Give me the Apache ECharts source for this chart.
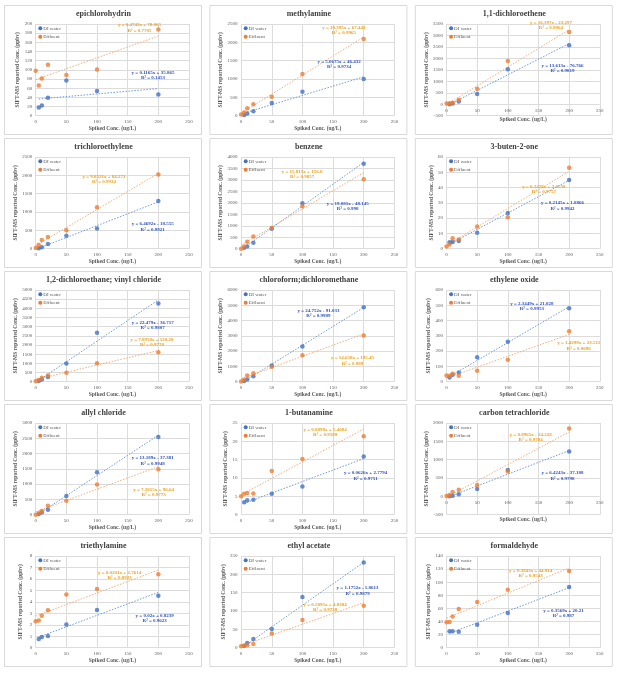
<!DOCTYPE html>
<html><head><meta charset="utf-8">
<script src="https://cdn.jsdelivr.net/npm/echarts@6/dist/echarts.min.js"></script>
<style>html,body{margin:0;padding:0;background:#fff}#c{width:620px;height:678px}</style>
</head><body><div id="c"></div><script>
// ---------------- data ----------------
const compounds = ['epichlorohydrin','methylamine','1,1-dichloroethene','trichloroethylene','benzene','3-buten-2-one',
  '1,2-dichloroethane; vinyl chloride','chloroform;dichloromethane','ethylene oxide','allyl chloride','1-butanamine',
  'carbon tetrachloride','triethylamine','ethyl acetate','formaldehyde'];
const spikedDI = [5, 10, 20, 50, 100, 200];
const spikedEffluent = [0, 5, 10, 20, 50, 100, 200];
const diWater = [
  [18, 22.5, 39, 77, 54, 46],
  [20, 60, 120, 345, 655, 1000],
  [0, 30, 120, 450, 1530, 2570],
  [10, 40, 130, 350, 550, 1300],
  [40, 100, 260, 870, 1980, 3710],
  [4.2, 4.4, 5.0, 10.5, 23.3, 45],
  [36, 126, 250, 990, 2670, 4260],
  [43, 150, 350, 1060, 2300, 4870],
  [27, 45, 61, 160, 262, 481],
  [20, 75, 160, 615, 1390, 2540],
  [3.4, 3.95, 4.05, 5.7, 7.7, 15.9],
  [0, 20, 55, 200, 720, 1220],
  [0.76, 0.93, 1.02, 2.03, 3.29, 4.54],
  [5.5, 12.7, 23.6, 51, 138, 232],
  [25, 25, 24.5, 35, 53, 92.6]
];
const effluent = [
  [98, 66, 81, 111, 89, 101, 188],
  [30, 90, 200, 310, 520, 1140, 2090],
  [30, 40, 70, 200, 680, 1890, 3150],
  [20, 100, 240, 320, 500, 1130, 2020],
  [0, 100, 300, 530, 900, 1850, 3030],
  [1.5, 2.8, 6.9, 6.1, 14.6, 20.5, 53],
  [18, 90, 216, 343, 487, 1010, 1607],
  [20, 130, 410, 560, 975, 1730, 3030],
  [41, 39, 52, 39, 71, 143, 330],
  [0, 50, 120, 290, 460, 990, 1490],
  [5.0, 5.7, 5.9, 5.75, 11.9, 15.2, 21.4],
  [10, 40, 120, 180, 310, 680, 1850],
  [2.3, 2.38, 2.79, 3.26, 4.65, 5.12, 6.4],
  [4, 5, 7, 10, 39, 75.5, 114.5],
  [38.7, 39.2, 47.8, 59, 69.7, 88.5, 117]
];
// trendline coefficients [slope, intercept, R2]
const diFit = [
  [0.1165, 35.865, '0.1453'], [5.0675, 46.432, '0.9734'], [13.613, -76.766, '0.9819'],
  [6.4692, -18.555, '0.9921'], [19.081, -48.145, '0.998'], [0.2145, 1.8866, '0.9942'],
  [22.479, -36.717, '0.9807'], [24.752, -91.033, '0.9989'], [2.3449, 21.828, '0.9953'],
  [13.189, -37.381, '0.9948'], [0.0626, 2.7794, '0.9751'], [6.4243, -37.188, '0.9798'],
  [0.02, 0.8239, '0.9623'], [1.1752, -1.8613, '0.9879'], [0.3569, 20.21, '0.987']
];
const effFit = [
  [0.4742, 78.865, '0.7705'], [10.395, 67.442, '0.9965'], [16.397, -23.297, '0.9864'],
  [9.8521, 84.271, '0.9934'], [15.815, 156.8, '0.9857'], [0.2428, 2.0538, '0.9757'],
  [7.8958, 120.28, '0.9778'], [14.658, 195.45, '0.989'], [1.4299, 23.511, '0.9696'],
  [7.3815, 96.64, '0.9773'], [0.0898, 5.4084, '0.9589'], [8.8965, -24.228, '0.9784'],
  [0.0201, 2.7614, '0.8923'], [0.5895, 4.8384, '0.9738'], [0.3843, 44.914, '0.9543']
];
const yMin = [0, 0, -500, 0, 0, 0, 0, 0, 0, 0, 0, -500, 0, 0, 0];
const yMax = [200, 2500, 3500, 2500, 4000, 60, 5000, 6000, 600, 3000, 25, 2000, 8, 250, 140];
const yStep = [20, 500, 500, 500, 500, 10, 500, 1000, 100, 500, 5, 500, 1, 50, 20];
const xTicks = {min: 0, max: 250, step: 50};

// ---------------- layout (positions / styles) ----------------
const COLW = 205.4, ROWH = 133;
const PL = 35.7, PT = 24, PW = 153.3, PH = 91.7;
// equation label centres: [effDx, effY, diDx, diY] relative to plot-left / row-top
const eqPos = [
  [103.8, 25, 117.3, 72.3], [102.7, 27.7, 98, 61.7], [104.4, 22.7, 116, 65.7],
  [68.3, 43.3, 117, 91], [61, 38.7, 106.6, 70.3], [97.3, 53.7, 116, 70],
  [116.3, 73.7, 117, 56.3], [111.4, 92, 77.3, 44.7], [132.2, 77, 85.3, 37.7],
  [117.9, 90.3, 117, 59], [84, 30.7, 124.5, 74], [84.2, 35.7, 116, 74],
  [83.9, 40.3, 119, 83.3], [84, 72.7, 116.5, 56], [84.2, 38.7, 117, 78.7]
];
const xNameGap = [9.3, 9.3, 12, 9.3, 9.3, 9.3, 9.3, 9.3, 9.3, 9.3, 9.3, 20, 9.3, 9.3, 9.3];
const FONT = '"Liberation Serif", "Times New Roman", serif';
const BLUE = '#4472C4', ORANGE = '#ED7D31';
const BLUE_TXT = '#2F52C2', ORANGE_TXT = '#EEA21F';
const BLUE_TREND = '#6F9BD8', ORANGE_TREND = '#F3AE7C';
const GRID_C = '#dcdcdc', LABEL_C = '#595959';

function eqText(f) {
  const b = f[1];
  return 'y = ' + f[0] + 'x ' + (b < 0 ? '- ' : '+ ') + Math.abs(b);
}
const plain = v => String(v);

const grids = [], xAxes = [], yAxes = [], series = [], graphics = [];
compounds.forEach((name, i) => {
  const c = i % 3, r = Math.floor(i / 3);
  const gl = PL + c * COLW, gt = PT + r * ROWH;
  const rowTop = r * ROWH;
  // x axis sits on the zero line (Excel style): shift up by the pixel height of the negative part
  const zeroOffset = yMin[i] < 0 ? -PH * (0 - yMin[i]) / (yMax[i] - yMin[i]) : 0;
  grids.push({left: gl, top: gt, width: PW, height: PH, containLabel: false, outerBoundsMode: 'none'});
  xAxes.push({
    type: 'value', gridIndex: i, min: xTicks.min, max: xTicks.max, interval: xTicks.step,
    position: 'bottom', offset: zeroOffset,
    name: 'Spiked Conc. (ug/L)', nameLocation: 'middle', nameGap: xNameGap[i],
    nameTextStyle: {fontFamily: FONT, fontSize: 5.5, fontWeight: 'bold', color: LABEL_C},
    axisLine: {show: false, onZero: false}, axisTick: {show: false},
    axisLabel: {fontFamily: FONT, fontSize: 5, color: LABEL_C, margin: 3.5, formatter: plain},
    splitLine: {show: true, lineStyle: {color: GRID_C, width: 1}}
  });
  yAxes.push({
    type: 'value', gridIndex: i, min: yMin[i], max: yMax[i], interval: yStep[i],
    name: 'SIFT-MS reported Conc. (ppbv)', nameLocation: 'middle', nameGap: 12,
    nameTextStyle: {fontFamily: FONT, fontSize: 5.5, fontWeight: 'bold', color: LABEL_C},
    axisLine: {show: false}, axisTick: {show: false},
    axisLabel: {fontFamily: FONT, fontSize: 5, color: LABEL_C, margin: 3.5, formatter: plain},
    splitLine: {show: true, lineStyle: {color: GRID_C, width: 1}}
  });
  const dFit = diFit[i], eFit = effFit[i];
  const dx0 = Math.min(...spikedDI), dx1 = Math.max(...spikedDI);
  const ex0 = Math.min(...spikedEffluent), ex1 = Math.max(...spikedEffluent);
  series.push({
    type: 'line', name: 'DI trend', xAxisIndex: i, yAxisIndex: i, silent: true, showSymbol: false, symbol: 'none',
    data: [[dx0, dFit[0] * dx0 + dFit[1]], [dx1, dFit[0] * dx1 + dFit[1]]],
    lineStyle: {color: BLUE_TREND, width: 1, type: [1.5, 1.5]}, z: 1
  });
  series.push({
    type: 'line', name: 'Effluent trend', xAxisIndex: i, yAxisIndex: i, silent: true, showSymbol: false, symbol: 'none',
    data: [[ex0, eFit[0] * ex0 + eFit[1]], [ex1, eFit[0] * ex1 + eFit[1]]],
    lineStyle: {color: ORANGE_TREND, width: 1, type: [1.5, 1.5]}, z: 1
  });
  series.push({
    type: 'scatter', name: 'DI water', xAxisIndex: i, yAxisIndex: i, symbol: 'circle', symbolSize: 4.5,
    data: spikedDI.map((x, k) => [x, diWater[i][k]]), itemStyle: {color: BLUE}, z: 3
  });
  series.push({
    type: 'scatter', name: 'Effluent', xAxisIndex: i, yAxisIndex: i, symbol: 'circle', symbolSize: 4.5,
    data: spikedEffluent.map((x, k) => [x, effluent[i][k]]), itemStyle: {color: ORANGE}, z: 3
  });
  // panel frame
  graphics.push({type: 'rect', z: -10, shape: {x: 4.5 + c * COLW, y: 5.5 + rowTop, width: 197, height: 129},
    style: {fill: '#fff', stroke: '#d9d9d9', lineWidth: 1}});
  // title
  graphics.push({type: 'text', x: 103.5 + c * COLW, y: 14 + rowTop, z: 10,
    style: {text: name, fill: '#404040', fontFamily: FONT, fontSize: 8, fontWeight: 'bold',
      textAlign: 'center', textVerticalAlign: 'middle', align: 'center', verticalAlign: 'middle'}});
  // legend
  [['DI water', BLUE, 28.3], ['Effluent', ORANGE, 36.7]].forEach(([lab, col, ly]) => {
    graphics.push({type: 'circle', z: 10, shape: {cx: gl + 4.6, cy: rowTop + ly, r: 2}, style: {fill: col}});
    graphics.push({type: 'text', x: gl + 7.6, y: rowTop + ly, z: 10,
      style: {text: lab, fill: LABEL_C, fontFamily: FONT, fontSize: 5,
        textAlign: 'left', textVerticalAlign: 'middle', align: 'left', verticalAlign: 'middle'}});
  });
  // equations
  const p = eqPos[i];
  [[eFit, ORANGE_TXT, p[0], p[1]], [dFit, BLUE_TXT, p[2], p[3]]].forEach(([f, col, dx, yy]) => {
    graphics.push({type: 'text', x: gl + dx, y: rowTop + yy, z: 10,
      style: {text: eqText(f), fill: col, fontFamily: FONT, fontSize: 5, fontWeight: 'bold',
        textAlign: 'center', textVerticalAlign: 'middle', align: 'center', verticalAlign: 'middle'}});
    graphics.push({type: 'text', x: gl + dx, y: rowTop + yy + 5.5, z: 10,
      style: {text: 'R² = ' + f[2], fill: col, fontFamily: FONT, fontSize: 5, fontWeight: 'bold',
        textAlign: 'center', textVerticalAlign: 'middle', align: 'center', verticalAlign: 'middle'}});
  });
});

const chart = echarts.init(document.getElementById('c'), null, {renderer: 'canvas'});
chart.setOption({
  animation: false,
  backgroundColor: '#fff',
  grid: grids, xAxis: xAxes, yAxis: yAxes, series: series,
  graphic: {elements: graphics}
});
</script></body></html>
